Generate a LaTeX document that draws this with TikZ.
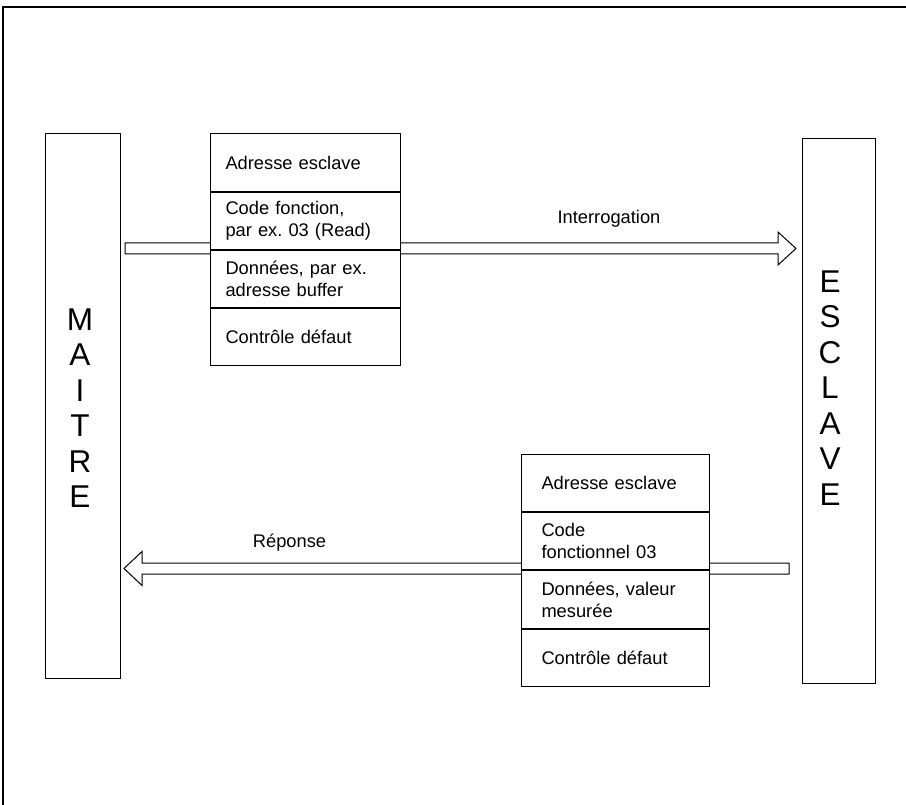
\documentclass[tikz,border=0pt]{standalone}
\usepackage{fontspec}
\setmainfont{Liberation Sans}
\usetikzlibrary{calc}
\frenchspacing
\begin{document}
\begin{tikzpicture}[x=1pt,y=-1pt,
  frameline/.style={line width=1.2pt, draw=black},
  column/.style={draw=black, line width=1pt, anchor=north west, inner sep=0pt},
  cell/.style={draw=black, line width=1pt, fill=white, anchor=north west,
    inner ysep=0pt, align=left, font=\fontsize{18.3}{22}\selectfont},
  topcell/.style={cell, inner xsep=15pt, text width=160pt, minimum height=#1},
  botcell/.style={cell, inner xsep=20pt, text width=148pt, minimum height=#1},
  bigword/.style={align=center, inner sep=0pt, font=\fontsize{31.5}{35.5}\selectfont},
  lbl/.style={anchor=base, inner sep=0pt, font=\fontsize{18.3}{22}\selectfont},
  blockarrow/.style={draw=black, line width=1pt, fill=white, line join=miter}
]
\useasboundingbox (0,0) rectangle (906,805);

% outer frame
\coordinate (fbl) at (3,805);
\coordinate (ftl) at (3,7);
\coordinate (ftr) at (906,7);
\draw[frameline] (fbl) -- (ftl) -- (ftr);

% master and slave columns
\node[column, minimum width=75pt, minimum height=545pt] (maitre) at (45,133) {};
\node[bigword] (maitretxt) at (80,408) {M\\A\\I\\T\\R\\E};
\node[column, minimum width=73pt, minimum height=545pt] (esclave) at (802,138) {};
\node[bigword] (esclavetxt) at (830,388) {E\\S\\C\\L\\A\\V\\E};

% request arrow (master -> slave)
\coordinate (qs) at (125,248.5);
\coordinate (qt) at (796,248.5);
\draw[blockarrow] ($(qs)+(0,-5.5)$) -- ($(qt)+(-18,-5.5)$) -- ($(qt)+(-18,-16.5)$)
  -- (qt) -- ($(qt)+(-18,16.5)$) -- ($(qt)+(-18,5.5)$) -- ($(qs)+(0,5.5)$) -- cycle;
\node[lbl] (interro) at (609,224) {Interrogation};

% response arrow (slave -> master)
\coordinate (rs) at (789,568.5);
\coordinate (rt) at (124,568.5);
\draw[blockarrow] ($(rs)+(0,-5.5)$) -- ($(rt)+(18,-5.5)$) -- ($(rt)+(18,-17)$)
  -- (rt) -- ($(rt)+(18,17)$) -- ($(rt)+(18,5.5)$) -- ($(rs)+(0,5.5)$) -- cycle;
\node[lbl] (reponse) at (289.5,547) {Réponse};

% request frame
\node[topcell=58pt] (q1) at (210,133) {Adresse esclave};
\node[topcell=57pt] (q2) at (q1.south west) {Code fonction,\\par ex. 03 (Read)};
\node[topcell=57pt] (q3) at (q2.south west) {Données, par ex.\\adresse buffer};
\node[topcell=57pt] (q4) at (q3.south west) {Contrôle défaut};

% response frame
\node[botcell=57pt] (r1) at (521,454) {Adresse esclave};
\node[botcell=57pt] (r2) at (r1.south west) {Code\\fonctionnel 03};
\node[botcell=58pt] (r3) at (r2.south west) {Données, valeur\\mesurée};
\node[botcell=57pt] (r4) at (r3.south west) {Contrôle défaut};
\end{tikzpicture}
\end{document}
